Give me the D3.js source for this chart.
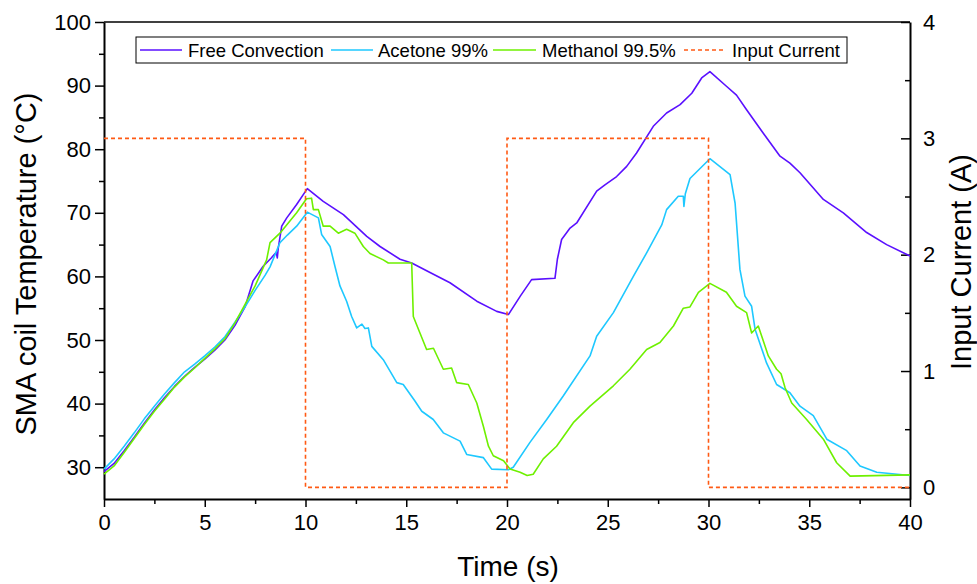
<!DOCTYPE html>
<html><head><meta charset="utf-8">
<script src="https://cdn.jsdelivr.net/npm/d3@7"></script>
<style>body{margin:0;background:#fff}svg{display:block}text{font-family:"Liberation Sans",Arial,sans-serif}</style>
</head><body><svg id="c" width="977" height="584"></svg>
<script>
const tFree=[0,0.5,1,1.5,2,2.5,3,3.5,4,4.5,5,5.5,6,6.5,7,7.4,7.9,8.3,8.55,8.6,8.65,8.82,9.07,9.56,10.09,10.88,11.88,13.04,13.7,14.69,15.27,16.18,17.17,18.5,19.49,20.07,20.66,21.22,22.38,22.5,22.71,23.13,23.46,24.45,24.86,25.44,25.94,26.43,27.26,27.92,28.59,29.17,29.66,30.07,30.89,31.39,31.89,32.72,33.55,34.04,34.54,35.7,36.69,37.85,38.84,40];
const vFree=[29.3,30.6,32.6,34.7,36.9,39.0,40.9,42.7,44.3,45.7,47.0,48.4,50.0,52.3,55.2,59.3,61.6,62.9,63.8,62.9,64.5,67.9,69.2,71.3,73.8,71.8,69.7,66.3,64.7,62.7,62.1,60.6,59.0,56.1,54.5,54.0,56.9,59.5,59.7,62.7,65.8,67.6,68.4,73.4,74.4,75.7,77.3,79.4,83.6,85.7,87.0,88.8,91.2,92.2,89.9,88.5,86.2,82.5,78.9,77.8,76.3,72.1,70.0,66.9,65.0,63.2];
const tAce=[0,0.5,1,1.5,2,2.5,3,3.5,4,4.5,5,5.5,6,6.5,7,7.5,8,8.24,8.5,8.73,9.1,9.56,10.09,10.64,10.8,11.22,11.46,11.71,12.04,12.29,12.54,12.8,12.95,13.12,13.29,13.86,14.53,14.85,15.43,15.77,16.34,16.84,17.67,18.0,18.83,19.24,20.07,20.31,21.14,21.97,22.79,24.12,24.45,25.28,26.27,26.93,27.68,27.92,28.5,28.75,28.78,28.85,29.08,30.07,31.07,31.32,31.56,31.81,32.14,32.31,32.88,33.38,34.04,34.54,35.2,35.87,36.86,37.52,38.35,40];
const vAce=[29.7,31.3,33.3,35.4,37.6,39.6,41.5,43.3,45.0,46.2,47.5,48.9,50.5,52.8,55.2,57.8,60.2,61.5,63.5,65.3,66.5,67.9,70.1,69.2,66.6,64.7,61.6,58.5,56.1,53.7,51.9,52.5,51.8,51.9,49.0,46.9,43.3,43.0,40.4,38.8,37.5,35.4,34.1,32.0,31.5,29.7,29.6,30.0,33.9,37.5,41.2,47.5,50.6,54.3,60.0,63.7,68.1,70.5,72.6,72.6,71.0,73.0,75.4,78.5,76.0,71.5,61.1,56.9,55.3,51.7,46.4,43.0,41.7,39.6,38.1,34.4,32.6,30.2,29.2,28.7];
const tMet=[0,0.5,1,1.5,2,2.5,3,3.5,4,4.5,5,5.5,6,6.5,7,7.5,8.07,8.24,8.73,9.56,10.05,10.3,10.39,10.64,10.88,11.22,11.63,12.04,12.45,12.87,13.2,13.86,14.11,15.27,15.35,15.68,16.01,16.35,16.84,17.25,17.5,18.08,18.5,18.83,19.08,19.32,19.83,20.15,20.65,21.0,21.3,21.8,22.46,23.29,24.12,25.28,26.1,26.93,27.59,28.26,28.75,29.08,29.5,30.07,30.89,31.39,31.89,32.14,32.47,32.97,33.38,33.6,33.8,34.13,34.87,35.7,36.36,37.03,40];
const vMet=[28.9,30.2,32.3,34.5,36.7,38.8,40.7,42.6,44.2,45.6,47.1,48.6,50.2,52.7,55.6,58.5,62.6,65.3,66.8,70.0,72.2,72.3,70.5,70.5,67.9,67.9,66.8,67.4,66.8,64.7,63.6,62.6,62.1,62.1,53.7,51.1,48.5,48.7,45.4,45.6,43.3,43.0,40.1,36.4,33.3,31.8,31.0,29.7,29.2,28.7,28.9,31.3,33.3,37.0,39.6,42.8,45.4,48.5,49.6,52.2,55.0,55.2,57.5,58.9,57.5,55.3,54.3,51.1,52.2,47.5,45.4,44.7,42.5,40.1,37.5,34.4,30.7,28.6,28.8];
const tCur=[0,10,20,30,40];
const vCur=[3,0,3,0,0];
const seriesNames=["Free Convection","Acetone 99%","Methanol 99.5%","Input Current"];
const xTicks=[0,5,10,15,20,25,30,35,40];
const yTicks=[30,40,50,60,70,80,90,100];
const y2Ticks=[0,1,2,3,4];

const svg=d3.select("#c");
const L=104,R=910,T=22,B=499;
const x=d3.scaleLinear().domain([0,40]).range([L,R]);
const y=d3.scaleLinear().domain([25,100]).range([B,T]);
const y2=d3.scaleLinear().domain([-0.1,4]).range([B,T]);
const colors=["#5a10ff","#1ec8ff","#6ef000","#ff5a14"];
const FS=22;

svg.append("line").attr("x1",L).attr("x2",R).attr("y1",T).attr("y2",T).attr("stroke","#000").attr("stroke-width",1.5);

function styleAxis(g){g.select(".domain").attr("stroke","#000").attr("stroke-width",2);g.selectAll(".tick line").attr("stroke","#000").attr("stroke-width",1.5);g.selectAll("text").attr("font-size",FS).attr("fill","#000").attr("font-family","Liberation Sans, Arial, sans-serif");}

const gx=svg.append("g").attr("transform",`translate(0,${B})`);
gx.call(d3.axisBottom(x).tickValues(d3.range(2.5,40,5)).tickSize(5).tickFormat(""));
gx.call(g=>g.select(".domain").remove());
const gxM=svg.append("g").attr("transform",`translate(0,${B})`).call(d3.axisBottom(x).tickValues(xTicks).tickSize(8).tickSizeOuter(0).tickPadding(7).tickFormat(d3.format("d")));
styleAxis(gxM);styleAxis(gx);

const gyMin=svg.append("g").attr("transform",`translate(${L},0)`).call(d3.axisLeft(y).tickValues(d3.range(35,100,10)).tickSize(5).tickFormat(""));
gyMin.select(".domain").remove();styleAxis(gyMin);
const gy=svg.append("g").attr("transform",`translate(${L},0)`).call(d3.axisLeft(y).tickValues(yTicks).tickSize(9).tickSizeOuter(0).tickPadding(4).tickFormat(d3.format("d")));
styleAxis(gy);

const gy2Min=svg.append("g").attr("transform",`translate(${R},0)`).call(d3.axisLeft(y2).tickValues([0.5,1.5,2.5,3.5]).tickSize(5).tickFormat(""));
gy2Min.select(".domain").remove();styleAxis(gy2Min);
const gy2=svg.append("g").attr("transform",`translate(${R},0)`).call(d3.axisRight(y2).tickValues(y2Ticks).tickSize(0).tickSizeOuter(0).tickPadding(13).tickFormat(d3.format("d")));
styleAxis(gy2);
gy2.selectAll(".tick").append("line").attr("x1",-9).attr("x2",0).attr("stroke","#000").attr("stroke-width",1.5);

svg.append("text").attr("x",(L+R)/2+1).attr("y",576).attr("text-anchor","middle").attr("font-size",28).text("Time (s)");
svg.append("text").attr("transform",`translate(36,264) rotate(-90)`).attr("text-anchor","middle").attr("font-size",29).text("SMA coil Temperature (°C)");
svg.append("text").attr("transform",`translate(971,262) rotate(-90)`).attr("text-anchor","middle").attr("font-size",29).text("Input Current (A)");

const plot=svg.append("g");
const line=d3.line().x(d=>x(d[0])).y(d=>y(d[1]));
const sets=[[tFree,vFree],[tAce,vAce],[tMet,vMet]];
sets.forEach((s,i)=>{
  const pts=s[0].map((t,j)=>[t,s[1][j]]);
  plot.append("path").datum(pts).attr("d",line).attr("fill","none").attr("stroke",colors[i]).attr("stroke-width",1.6).attr("stroke-linejoin","round");
});
const curPts=tCur.map((t,j)=>[t,vCur[j]]);
plot.append("path").datum(curPts).attr("d",d3.line().curve(d3.curveStepAfter).x(d=>x(d[0])).y(d=>y2(d[1]))).attr("fill","none").attr("stroke",colors[3]).attr("stroke-width",1.6).attr("stroke-dasharray","4,3");

const lg=svg.append("g");
lg.append("rect").attr("x",136).attr("y",37).attr("width",711).attr("height",26).attr("fill","#fff").attr("stroke","#000").attr("stroke-width",1);
const items=[{x0:140,x1:182,tx:188},{x0:331,x1:373,tx:378},{x0:493,x1:536,tx:542},{x0:684,x1:726,tx:732}];
items.forEach((it,i)=>{
  lg.append("line").attr("x1",it.x0).attr("x2",it.x1).attr("y1",50).attr("y2",50).attr("stroke",colors[i]).attr("stroke-width",1.6).attr("stroke-dasharray",i===3?"4,3":null);
  lg.append("text").attr("x",it.tx).attr("y",57).attr("font-size",18.5).text(seriesNames[i]);
});
</script></body></html>
